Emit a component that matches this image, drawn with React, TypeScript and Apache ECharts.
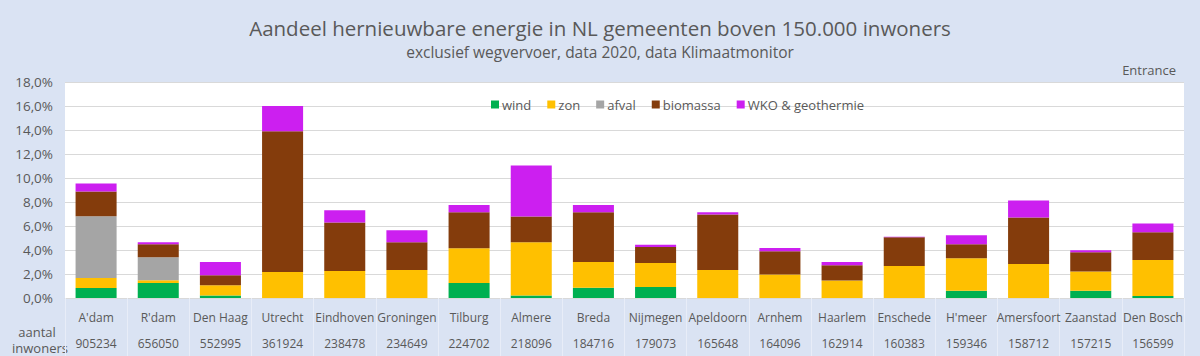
import React, { useEffect, useRef } from "react";
import * as echarts from "echarts";

const categories = ["A'dam", "R'dam", "Den Haag", "Utrecht", "Eindhoven", "Groningen", "Tilburg", "Almere", "Breda", "Nijmegen", "Apeldoorn", "Arnhem", "Haarlem", "Enschede", "H'meer", "Amersfoort", "Zaanstad", "Den Bosch"];
const inwoners = ["905234", "656050", "552995", "361924", "238478", "234649", "224702", "218096", "184716", "179073", "165648", "164096", "162914", "160383", "159346", "158712", "157215", "156599"];
const wind = [0.83, 1.25, 0.2, 0, 0, 0, 1.25, 0.2, 0.86, 0.92, 0, 0, 0, 0, 0.61, 0, 0.61, 0.17];
const zon = [0.84, 0.22, 0.86, 2.17, 2.25, 2.34, 2.9, 4.45, 2.15, 2.0, 2.34, 1.95, 1.45, 2.67, 2.7, 2.84, 1.59, 3.0];
const afval = [5.15, 1.92, 0, 0, 0, 0, 0, 0, 0, 0, 0, 0, 0, 0, 0, 0, 0, 0];
const biomassa = [2.06, 1.08, 0.83, 11.72, 4.04, 2.31, 3.0, 2.14, 4.14, 1.34, 4.62, 1.95, 1.28, 2.4, 1.17, 3.87, 1.61, 2.31];
const wko = [0.67, 0.17, 1.11, 2.11, 1.03, 1.0, 0.59, 4.26, 0.59, 0.17, 0.19, 0.27, 0.27, 0.03, 0.75, 1.42, 0.17, 0.73];

const seriesNames = ["wind", "zon", "afval", "biomassa", "WKO & geothermie"];
const seriesColors = ["#00b050", "#ffc000", "#a5a5a5", "#843c0c", "#cc1ff0"];

const FONT = "'Open Sans', sans-serif";
const TXT = "#595959";

export default function App() {
  const ref = useRef<HTMLDivElement>(null);
  useEffect(() => {
    if (!ref.current) return;
    const chart = echarts.init(ref.current, null, { renderer: "svg" });
    const data = [wind, zon, afval, biomassa, wko];
    chart.setOption({
      animation: false,
      backgroundColor: "#dae3f3",
      textStyle: { fontFamily: FONT },
      title: [
        {
          text: "Aandeel hernieuwbare energie in NL gemeenten boven 150.000 inwoners",
          left: "center",
          top: 12,
          textStyle: { fontFamily: FONT, fontSize: 20.5, fontWeight: "normal", color: TXT },
        },
        {
          text: "exclusief wegvervoer, data 2020, data Klimaatmonitor",
          left: "center",
          top: 39,
          textStyle: { fontFamily: FONT, fontSize: 15.5, fontWeight: "normal", color: TXT },
        },
      ],
      graphic: [
        { type: "text", right: 24, top: 63, style: { text: "Entrance", font: `13px ${FONT}`, fill: TXT } },
        { type: "text", x: 37, y: 332, style: { text: "aantal", font: `13px ${FONT}`, fill: TXT, align: "center", verticalAlign: "middle" } },
        { type: "text", x: 40, y: 348, style: { text: "inwoners", font: `13px ${FONT}`, fill: TXT, align: "center", verticalAlign: "middle" } },
      ],
      legend: {
        left: 486,
        top: 93,
        itemWidth: 8,
        itemHeight: 8,
        itemGap: 16,
        icon: "rect",
        textStyle: { fontFamily: FONT, fontSize: 13, color: TXT, padding: [0, 0, 0, -2] },
        data: seriesNames,
      },
      grid: {
        left: 65,
        right: 16,
        top: 82,
        bottom: 58,
        show: true,
        backgroundColor: "#ffffff",
        borderWidth: 0,
      },
      xAxis: {
        type: "category",
        data: categories.map((c, i) => c + "\n" + inwoners[i]),
        axisLine: { show: true, lineStyle: { color: "#d9d9d9" } },
        axisTick: { show: true, length: 58, lineStyle: { color: "#e8edf8" } },
        axisLabel: {
          interval: 0,
          color: TXT,
          fontFamily: FONT,
          fontSize: 12,
          lineHeight: 26,
          margin: 6,
        },
      },
      yAxis: {
        type: "value",
        min: 0,
        max: 18,
        interval: 2,
        axisLine: { show: false },
        axisTick: { show: false },
        splitLine: { lineStyle: { color: "#d9d9d9" } },
        axisLabel: {
          color: TXT,
          fontFamily: FONT,
          fontSize: 13.5,
          margin: 12,
          formatter: (v: number) => v.toFixed(1).replace(".", ",") + "%",
        },
      },
      series: seriesNames.map((name, k) => ({
        name,
        type: "bar",
        stack: "total",
        barCategoryGap: "34%",
        itemStyle: { color: seriesColors[k] },
        data: data[k],
      })),
    });
    return () => chart.dispose();
  }, []);
  return <div ref={ref} style={{ width: 1200, height: 356, position: "absolute", left: 0, top: 0 }} />;
}
